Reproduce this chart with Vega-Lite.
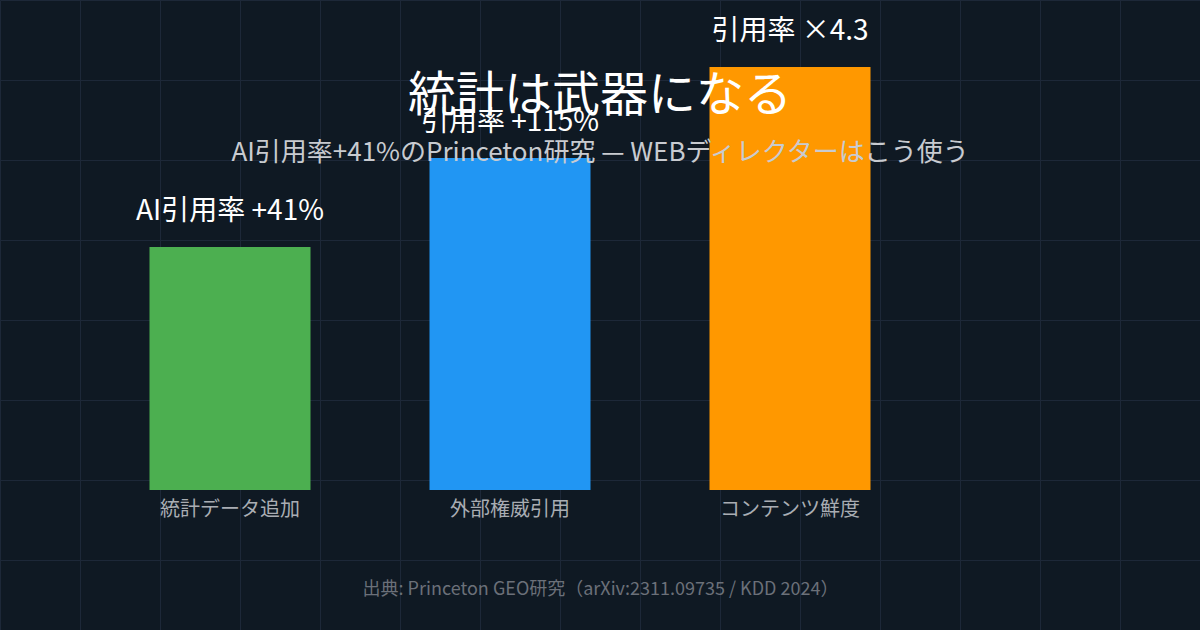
{
  "$schema": "https://vega.github.io/schema/vega-lite/v6.json",
  "width": 1200,
  "height": 630,
  "autosize": {"type": "fit", "contains": "padding"},
  "padding": 0,
  "background": "#0f1923",
  "config": {
    "view": {"stroke": null},
    "font": "Noto Sans CJK JP"
  },
  "title": {
    "text": "統計は武器になる",
    "subtitle": "AI引用率+41%のPrinceton研究 — WEBディレクターはこう使う",
    "anchor": "middle",
    "frame": "group",
    "orient": "top",
    "offset": -166,
    "font": "Noto Sans CJK JP",
    "fontSize": 48,
    "fontWeight": "normal",
    "color": "#ffffff",
    "subtitleFont": "Noto Sans CJK JP",
    "subtitleFontSize": 26,
    "subtitleFontWeight": "normal",
    "subtitleColor": "#c8cbd0",
    "subtitlePadding": 19
  },
  "data": {
    "values": [
      {"category": "統計データ追加", "pct": 41, "label": "AI引用率 +41%"},
      {"category": "外部権威引用", "pct": 115, "label": "引用率 +115%"},
      {"category": "コンテンツ鮮度", "pct": 330, "label": "引用率 ×4.3"}
    ]
  },
  "layer": [
    {
      "mark": {"type": "point", "opacity": 0, "size": 0},
      "encoding": {
        "x": {
          "datum": 600,
          "type": "quantitative",
          "scale": {"domain": [0, 1200], "nice": false, "zero": false},
          "axis": {
            "orient": "bottom",
            "offset": -50,
            "values": [0, 80, 160, 240, 320, 400, 480, 560, 640, 720, 800, 880, 960, 1040, 1120],
            "grid": true,
            "gridColor": "#1d2838",
            "gridWidth": 1,
            "labels": false,
            "ticks": false,
            "tickSize": 0,
            "domain": false,
            "title": "出典: Princeton GEO研究（arXiv:2311.09735 / KDD 2024）",
            "titleFont": "Noto Sans CJK JP",
            "titleFontSize": 18,
            "titleFontWeight": "normal",
            "titleColor": "#6b7079",
            "titlePadding": 0
          }
        },
        "y": {
          "datum": 315,
          "type": "quantitative",
          "scale": {"domain": [0, 630], "nice": false, "zero": false, "reverse": true},
          "axis": {
            "orient": "right",
            "values": [0, 80, 160, 240, 320, 400, 480, 560],
            "grid": true,
            "gridColor": "#1d2838",
            "gridWidth": 1,
            "labels": false,
            "ticks": false,
            "domain": false,
            "title": null
          }
        }
      }
    },
    {
      "encoding": {
        "x": {
          "field": "category",
          "type": "nominal",
          "sort": null,
          "scale": {"range": [90, 930], "paddingInner": 0.425, "paddingOuter": 0.2125},
          "axis": null
        }
      },
      "layer": [
        {
          "mark": {"type": "bar"},
          "encoding": {
            "y": {
              "field": "pct",
              "type": "quantitative",
              "scale": {"type": "log", "domain": [2.455, 717.6], "range": [490, 0], "nice": false, "zero": false},
              "axis": null
            },
            "y2": {"datum": 2.455},
            "color": {
              "field": "category",
              "type": "nominal",
              "scale": {
                "domain": ["統計データ追加", "外部権威引用", "コンテンツ鮮度"],
                "range": ["#4caf50", "#2196f3", "#ff9800"]
              },
              "legend": null
            }
          }
        },
        {
          "mark": {
            "type": "text",
            "font": "Noto Sans CJK JP",
            "fontSize": 28,
            "color": "#ffffff",
            "baseline": "alphabetic",
            "dy": -27
          },
          "encoding": {
            "y": {"field": "pct", "type": "quantitative"},
            "text": {"field": "label"}
          }
        },
        {
          "mark": {
            "type": "text",
            "font": "Noto Sans CJK JP",
            "fontSize": 20,
            "color": "#a9adb3",
            "baseline": "alphabetic",
            "dy": 26
          },
          "encoding": {
            "y": {"datum": 2.455, "type": "quantitative"},
            "text": {"field": "category"}
          }
        }
      ]
    }
  ],
  "resolve": {"scale": {"x": "independent", "y": "independent"}}
}
